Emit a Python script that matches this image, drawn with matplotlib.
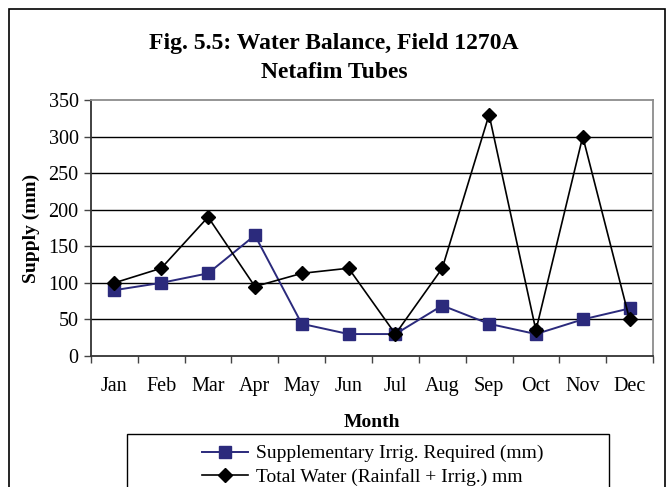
import matplotlib
matplotlib.use("Agg")
import matplotlib.pyplot as plt
from matplotlib.patches import Rectangle

months = ["Jan", "Feb", "Mar", "Apr", "May", "Jun", "Jul", "Aug", "Sep", "Oct", "Nov", "Dec"]
supp_irrig = [90, 100, 113, 165, 44, 30, 30, 69, 44, 30, 50, 65]
total_water = [100, 120, 190, 95, 113, 120, 30, 120, 330, 35, 300, 50]
y_ticks = [0, 50, 100, 150, 200, 250, 300, 350]

W, H = 668, 487
plt.rcParams["font.family"] = ["Liberation Serif", "DejaVu Serif"]
fig = plt.figure(figsize=(W / 100, H / 100), dpi=100)

def fx(px):
    return px / W

def fy(py):
    return 1 - py / H

# outer chart border (runs past the bottom edge)
fig.patches.append(Rectangle((fx(9), fy(500)), fx(665) - fx(9), fy(9) - fy(500),
                             transform=fig.transFigure, fill=False,
                             edgecolor="black", linewidth=1.2))

ax = fig.add_axes([fx(91), fy(356), fx(653) - fx(91), fy(100) - fy(356)])
x = list(range(len(months)))

ax.plot(x, supp_irrig, color="#2B2A7C", linewidth=1.4, marker="s",
        markersize=9, markerfacecolor="#2B2A7C", markeredgecolor="#2B2A7C",
        label="Supplementary Irrig. Required (mm)", zorder=3)
ax.plot(x, total_water, color="black", linewidth=1.2, marker="D",
        markersize=7, markerfacecolor="black",
        label="Total Water (Rainfall + Irrig.) mm", zorder=4)

ax.set_xlim(-0.5, len(months) - 0.5)
ax.set_ylim(0, 350)
ax.set_yticks(y_ticks)
ax.set_yticklabels([str(v) for v in y_ticks], fontsize=14.5)
ax.set_xticks(x)
ax.set_xticklabels(months, fontsize=14.5)
ax.tick_params(axis="x", length=0, pad=15)
ax.set_xticks([i - 0.5 for i in range(len(months) + 1)], minor=True)
ax.tick_params(axis="x", which="minor", length=5, width=1, color="#444444")
ax.tick_params(axis="y", length=5, width=1, color="#444444", pad=4)

for v in y_ticks[1:-1]:
    ax.axhline(v, color="black", linewidth=1.0, zorder=1)

ax.spines["left"].set_color("#333333")
ax.spines["bottom"].set_color("#333333")
ax.spines["top"].set_color("#8C8C8C")
ax.spines["right"].set_color("#8C8C8C")
for s in ax.spines.values():
    s.set_linewidth(1.3)

ax.set_ylabel("Supply (mm)", fontsize=14, fontweight="bold", labelpad=6)
ax.set_xlabel("Month", fontsize=14, fontweight="bold", labelpad=13)

fig.text(0.5, fy(44), "Fig. 5.5: Water Balance, Field 1270A", ha="center",
         va="center", fontsize=17, fontweight="bold")
fig.text(0.5, fy(73), "Netafim Tubes", ha="center", va="center",
         fontsize=17, fontweight="bold")

# legend box (runs past the bottom edge)
fig.patches.append(Rectangle((fx(127), fy(500)), fx(609) - fx(127), fy(434) - fy(500),
                             transform=fig.transFigure, fill=False,
                             edgecolor="black", linewidth=1.0))
handles, labels = ax.get_legend_handles_labels()
leg = fig.legend(handles, labels, loc="upper left",
                 bbox_to_anchor=(fx(192), fy(435)), frameon=False,
                 fontsize=14, handlelength=2.4, handletextpad=0.4,
                 labelspacing=0.3, borderpad=0)

fig.savefig("out.png", dpi=100)
